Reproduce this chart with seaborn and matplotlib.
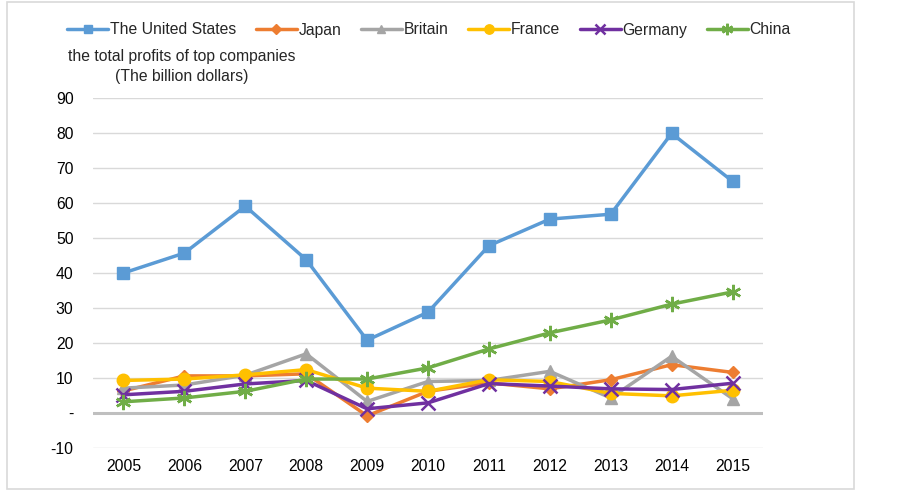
import pandas as pd
import seaborn as sns
import matplotlib.pyplot as plt
from matplotlib.patches import Rectangle
from matplotlib.ticker import FixedLocator, FixedFormatter

years = ['2005', '2006', '2007', '2008', '2009', '2010', '2011', '2012', '2013', '2014', '2015']
usa = [40.0, 45.7, 59.1, 43.8, 20.8, 28.8, 47.8, 55.4, 56.8, 79.9, 66.2]
japan = [6.3, 10.6, 10.6, 11.2, -0.8, 6.2, 8.6, 6.9, 9.5, 13.8, 11.6]
britain = [7.1, 8.0, 10.8, 16.9, 3.3, 9.0, 9.3, 11.9, 4.3, 16.2, 4.1]
france = [9.3, 9.7, 10.9, 12.4, 7.1, 6.2, 9.5, 9.0, 5.6, 4.9, 6.5]
germany = [5.2, 6.2, 8.3, 9.3, 1.2, 2.9, 8.4, 7.7, 6.9, 6.7, 8.5]
china = [3.2, 4.3, 6.2, 9.7, 9.7, 12.9, 18.3, 22.9, 26.6, 31.1, 34.6]

series = {
    'The United States': usa,
    'Japan': japan,
    'Britain': britain,
    'France': france,
    'Germany': germany,
    'China': china,
}
colors = {
    'The United States': '#5B9BD5',
    'Japan': '#ED7D31',
    'Britain': '#A5A5A5',
    'France': '#FFC000',
    'Germany': '#7030A0',
    'China': '#70AD47',
}
markers = {
    'The United States': 's',
    'Japan': 'D',
    'Britain': '^',
    'France': 'o',
    'Germany': 'x',
    'China': (6, 2, 0),
}
sizes = {
    'The United States': 8,
    'Japan': 6.5,
    'Britain': 8,
    'France': 9,
    'Germany': 10,
    'China': 11,
}

rows = []
for name, vals in series.items():
    for i, v in enumerate(vals):
        rows.append({'country': name, 'pos': i, 'value': v})
df = pd.DataFrame(rows)

sns.set_theme(style='white')
plt.rcParams['font.family'] = ['Liberation Sans', 'DejaVu Sans']

fig = plt.figure(figsize=(9.03, 4.92), dpi=100)
ax = fig.add_axes([93 / 903, 1 - 448 / 492, 670 / 903, 350 / 492])

for name in series:
    sub = df[df['country'] == name]
    filled = markers[name] not in ('x', (6, 2, 0))
    sns.lineplot(data=sub, x='pos', y='value', ax=ax, color=colors[name],
                 linewidth=2.5, marker=markers[name], markersize=sizes[name],
                 markeredgecolor=colors[name],
                 markeredgewidth=1.0 if filled else 1.8,
                 label=name, zorder=3)

ax.set_xlim(-0.5, 10.5)
ax.set_ylim(-10, 90)
ax.xaxis.set_major_locator(FixedLocator(range(len(years))))
ax.xaxis.set_major_formatter(FixedFormatter(years))
yt = list(range(-10, 91, 10))
ax.yaxis.set_major_locator(FixedLocator(yt))
ax.yaxis.set_major_formatter(FixedFormatter(['-' if t == 0 else str(t) for t in yt]))
ax.tick_params(axis='both', labelsize=11.3, colors='black', length=0)
ax.tick_params(axis='y', pad=14)
ax.tick_params(axis='x', pad=8)
for t in yt:
    if t == 0:
        ax.axhline(t, color='#BFBFBF', linewidth=2.2, zorder=1)
    else:
        ax.axhline(t, color='#D9D9D9', linewidth=1.0, zorder=1)
for s in ax.spines.values():
    s.set_visible(False)
ax.set_xlabel('')
ax.set_ylabel('')

handles, labels = ax.get_legend_handles_labels()
ax.get_legend().remove()
fig.legend(handles, labels, loc='center left', bbox_to_anchor=(61 / 903, 1 - 30 / 492),
           ncol=6, frameon=False, fontsize=11.3, handlelength=2.6, handletextpad=0.12,
           columnspacing=1.25, borderaxespad=0, markerscale=0.75)

fig.text(182 / 903, 1 - 56 / 492, 'the total profits of top companies',
         ha='center', va='center', fontsize=11.3)
fig.text(182 / 903, 1 - 76 / 492, '(The billion dollars)',
         ha='center', va='center', fontsize=11.3)

fig.patches.append(Rectangle((7 / 903, 1 - 489 / 492), 847 / 903, 487 / 492,
                             transform=fig.transFigure, fill=False,
                             edgecolor='#D9D9D9', linewidth=1.2))

fig.savefig('out.png', dpi=100, facecolor='white')
